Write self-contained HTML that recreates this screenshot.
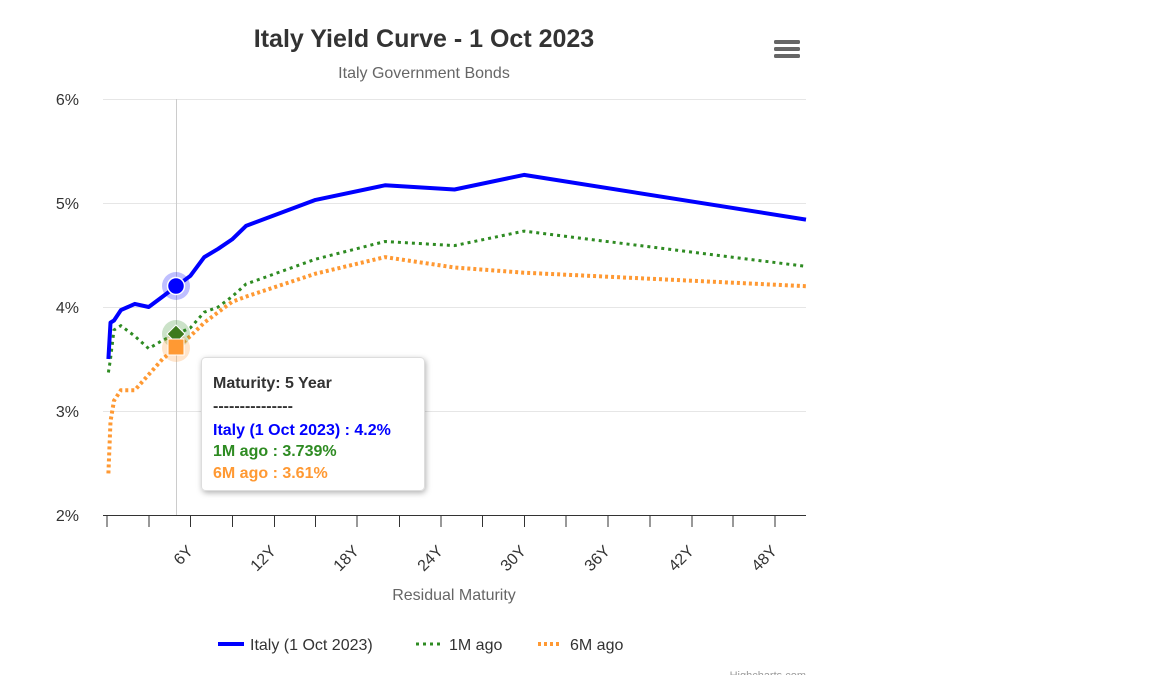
<!DOCTYPE html>
<html><head><meta charset="utf-8"><style>
body{margin:0;background:#fff;}
svg text{font-family:"Liberation Sans",sans-serif;}
</style></head><body>
<svg width="1152" height="675" xmlns="http://www.w3.org/2000/svg">
<defs><filter id="sh" x="-20%" y="-20%" width="140%" height="140%"><feDropShadow dx="1" dy="2" stdDeviation="3" flood-color="#000" flood-opacity="0.3"/></filter></defs>
<rect width="1152" height="675" fill="#fff"/>
<text x="424" y="47" text-anchor="middle" font-size="25" font-weight="bold" fill="#333">Italy Yield Curve - 1 Oct 2023</text>
<text x="424" y="78" text-anchor="middle" font-size="16" fill="#666">Italy Government Bonds</text>
<g fill="#666"><rect x="774" y="40" width="26" height="4" rx="1.5"/><rect x="774" y="47" width="26" height="4" rx="1.5"/><rect x="774" y="54" width="26" height="4" rx="1.5"/></g>
<g stroke="#e6e6e6" stroke-width="1">
<line x1="103" y1="99.5" x2="806" y2="99.5"/><line x1="103" y1="203.5" x2="806" y2="203.5"/><line x1="103" y1="307.5" x2="806" y2="307.5"/><line x1="103" y1="411.5" x2="806" y2="411.5"/>
</g>
<g font-size="16" fill="#333" text-anchor="end">
<text x="79" y="105">6%</text><text x="79" y="209">5%</text><text x="79" y="313">4%</text><text x="79" y="417">3%</text><text x="79" y="521">2%</text>
</g>
<line x1="176.5" y1="99" x2="176.5" y2="515" stroke="#ccc" stroke-width="1"/>
<line x1="103" y1="515.5" x2="806" y2="515.5" stroke="#333" stroke-width="1"/>
<g stroke="#333" stroke-width="1">
<line x1="107" y1="515" x2="107" y2="527"/><line x1="149" y1="515" x2="149" y2="527"/><line x1="190.5" y1="515" x2="190.5" y2="527"/><line x1="232.5" y1="515" x2="232.5" y2="527"/><line x1="274.5" y1="515" x2="274.5" y2="527"/><line x1="315.5" y1="515" x2="315.5" y2="527"/><line x1="357" y1="515" x2="357" y2="527"/><line x1="399.5" y1="515" x2="399.5" y2="527"/><line x1="441" y1="515" x2="441" y2="527"/><line x1="482.5" y1="515" x2="482.5" y2="527"/><line x1="524.5" y1="515" x2="524.5" y2="527"/><line x1="566" y1="515" x2="566" y2="527"/><line x1="608" y1="515" x2="608" y2="527"/><line x1="650" y1="515" x2="650" y2="527"/><line x1="692" y1="515" x2="692" y2="527"/><line x1="733" y1="515" x2="733" y2="527"/><line x1="775" y1="515" x2="775" y2="527"/>
</g>
<g font-size="16" fill="#333" text-anchor="end">
<text transform="translate(194,552) rotate(-45)">6Y</text>
<text transform="translate(277,552) rotate(-45)">12Y</text>
<text transform="translate(360,552) rotate(-45)">18Y</text>
<text transform="translate(444,552) rotate(-45)">24Y</text>
<text transform="translate(527,552) rotate(-45)">30Y</text>
<text transform="translate(611,552) rotate(-45)">36Y</text>
<text transform="translate(695,552) rotate(-45)">42Y</text>
<text transform="translate(778,552) rotate(-45)">48Y</text>
</g>
<text x="454" y="600" text-anchor="middle" font-size="16" fill="#666">Residual Maturity</text>
<polyline fill="none" stroke="#ff9933" stroke-width="4" stroke-dasharray="3,3" points="108.4,473.4 110.5,421.4 114,400.6 120.9,390.2 134.8,390.2 148.7,374.6 162.6,359 176.5,347.6 190.4,336.1 204.3,322.6 218.2,312.2 232.1,301.8 246,296.6 315.5,273.7 385,257.1 454.5,267.5 524,272.7 806,286.2"/>
<polyline fill="none" stroke="#2e8b22" stroke-width="3" stroke-dasharray="3,4" points="108.4,372.5 110.5,359 114,330 120.9,325.7 134.8,336.1 148.7,348.6 162.6,340.3 176.5,334.1 190.4,327.8 204.3,312.2 218.2,307 232.1,296.6 246,284.1 315.5,259.2 385,241.5 454.5,245.6 524,231.1 806,266.4"/>
<polyline fill="none" stroke="#0000ff" stroke-width="4" stroke-linejoin="round" points="108.4,359 110.5,322.6 114,320.5 120.9,310.1 134.8,303.9 148.7,307 162.6,296.6 176.5,286.2 190.4,275.8 204.3,257.1 218.2,248.8 232.1,239.4 246,225.9 315.5,199.9 385,185.3 454.5,189.5 524,174.9 806,219.6"/>
<circle cx="176" cy="286" r="14" fill="#0000ff" fill-opacity="0.25"/>
<circle cx="176" cy="286" r="8.5" fill="#0000ff" stroke="#fff" stroke-width="1.5"/>
<circle cx="176" cy="334" r="14" fill="#2e8b22" fill-opacity="0.25"/>
<circle cx="176" cy="348" r="14" fill="#ff9933" fill-opacity="0.25"/>
<polygon points="176,325 185,334 176,343 167,334" fill="#3d7a1c" stroke="#fff" stroke-width="1"/>
<rect x="168" y="339" width="16" height="16" fill="#ff9933" stroke="#fff" stroke-width="1"/>
<rect x="201.5" y="357.5" width="223" height="133" rx="4" fill="#fff" stroke="#ddd" filter="url(#sh)"/>
<g font-size="16" font-weight="bold">
<text x="213" y="388" fill="#333">Maturity: 5 Year</text>
<text x="213" y="411" fill="#333">---------------</text>
<text x="213" y="435" fill="#0000ff">Italy (1 Oct 2023) : 4.2%</text>
<text x="213" y="456" fill="#2e8b22">1M ago : 3.739%</text>
<text x="213" y="478" fill="#ff9933">6M ago : 3.61%</text>
</g>
<line x1="218" y1="644" x2="244" y2="644" stroke="#0000ff" stroke-width="4"/>
<text x="250" y="650" font-size="16" fill="#333">Italy (1 Oct 2023)</text>
<line x1="416" y1="644" x2="440" y2="644" stroke="#2e8b22" stroke-width="3" stroke-dasharray="3,4"/>
<text x="449" y="650" font-size="16" fill="#333">1M ago</text>
<line x1="538" y1="644" x2="562" y2="644" stroke="#ff9933" stroke-width="4" stroke-dasharray="3,3"/>
<text x="570" y="650" font-size="16" fill="#333">6M ago</text>
<text x="806" y="679" text-anchor="end" font-size="11" fill="#999">Highcharts.com</text>
</svg>
</body></html>
